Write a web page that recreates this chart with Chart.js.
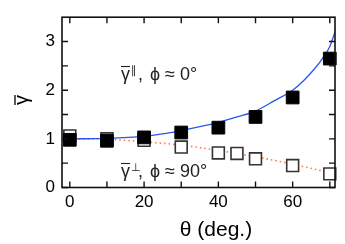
<!DOCTYPE html>
<html>
<head>
<meta charset="utf-8">
<script src="https://cdn.jsdelivr.net/npm/chart.js@4/dist/chart.umd.min.js"></script>
<style>
  body { margin: 0; background: #fff; }
  canvas { display: block; }
</style>
</head>
<body>
<canvas id="chart" width="345" height="244"></canvas>
<script>
// measured points
const thetaPar = [0, 10, 20, 30, 40, 50, 60, 70];
const gammaPar = [0.98, 0.96, 1.03, 1.13, 1.23, 1.45, 1.85, 2.65];
const thetaPerp = [0, 10, 20, 30, 40, 45, 50, 60, 70];
const gammaPerp = [1.06, 1.0, 0.97, 0.83, 0.71, 0.70, 0.59, 0.45, 0.28];

// fit curves
const thetaFitPar = [0, 10, 20, 25, 30, 35, 40, 45, 50, 55, 60, 63, 66, 68, 70, 71.5];
const gammaFitPar = [1.0, 1.01, 1.05, 1.1, 1.17, 1.25, 1.34, 1.45, 1.57, 1.78, 2.0, 2.2, 2.45, 2.65, 2.9, 3.22];
const thetaFitPerp = [0, 10, 20, 30, 40, 50, 60, 70, 71.5];
const gammaFitPerp = [1.0, 0.99, 0.94, 0.87, 0.76, 0.63, 0.48, 0.3, 0.27];

// axes
const xTicks = [0, 10, 20, 30, 40, 50, 60, 70];
const yTicks = [0, 0.5, 1, 1.5, 2, 2.5, 3];

const toXY = (xs, ys) => xs.map((x, i) => ({ x: x, y: ys[i] }));

Chart.defaults.font.family = '"Liberation Sans", Arial, sans-serif';
Chart.defaults.color = "#000";

const framePlugin = {
  id: "frame",
  afterDraw(chart) {
    const ctx = chart.ctx;
    const a = chart.chartArea;
    const xs = chart.scales.x, ys = chart.scales.y;
    ctx.save();
    ctx.strokeStyle = "#111";
    ctx.lineWidth = 1.6;
    ctx.strokeRect(a.left, a.top, a.right - a.left, a.bottom - a.top);
    ctx.lineWidth = 1.4;
    ctx.beginPath();
    xTicks.forEach(v => {
      const px = xs.getPixelForValue(v);
      ctx.moveTo(px, a.bottom); ctx.lineTo(px, a.bottom - 6);
      ctx.moveTo(px, a.top); ctx.lineTo(px, a.top + 6);
    });
    yTicks.forEach(v => {
      const py = ys.getPixelForValue(v);
      ctx.moveTo(a.left, py); ctx.lineTo(a.left + 6, py);
      ctx.moveTo(a.right, py); ctx.lineTo(a.right - 6, py);
    });
    ctx.stroke();

    // axis titles
    ctx.fillStyle = "#000";
    ctx.font = '21px "Liberation Sans", Arial, sans-serif';
    ctx.textAlign = "center";
    ctx.textBaseline = "alphabetic";
    ctx.fillText("θ (deg.)", 216, 236);

    ctx.save();
    ctx.translate(25, 100);
    ctx.rotate(-Math.PI / 2);
    ctx.font = '20px "Liberation Sans", Arial, sans-serif';
    ctx.fillText("γ", 0, 3);
    ctx.lineWidth = 1.3;
    ctx.strokeStyle = "#000";
    ctx.beginPath();
    ctx.moveTo(-5, -10); ctx.lineTo(5, -10);
    ctx.stroke();
    ctx.restore();

    // annotations
    const label = (x, base, sup, rest) => {
      ctx.fillStyle = "#222";
      ctx.strokeStyle = "#222";
      ctx.textAlign = "left";
      ctx.font = '18px "Liberation Sans", Arial, sans-serif';
      ctx.fillText("γ", x, base);
      const w = ctx.measureText("γ").width;
      ctx.lineWidth = 1.1;
      ctx.beginPath();
      ctx.moveTo(x, base - 13.5); ctx.lineTo(x + w, base - 13.5);
      ctx.stroke();
      ctx.font = '11px "DejaVu Sans", sans-serif';
      ctx.fillText(sup, x + w + 1, base - 6);
      ctx.font = '18px "Liberation Sans", Arial, sans-serif';
      ctx.fillText(",", x + w + 8, base);
      ctx.fillText(rest, x + w + 20, base);
    };
    label(121, 80, "∥", "ϕ ≈ 0°");
    label(121, 177, "⊥", "ϕ ≈ 90°");
    ctx.restore();
  }
};

new Chart(document.getElementById("chart"), {
  type: "scatter",
  data: {
    datasets: [
      {
        label: "par",
        data: toXY(thetaPar, gammaPar),
        pointStyle: "rect",
        pointRadius: 9,
        backgroundColor: "#000",
        borderColor: "#000",
        borderWidth: 1,
        clip: false
      },
      {
        label: "perp",
        data: toXY(thetaPerp, gammaPerp),
        pointStyle: "rect",
        pointRadius: 8.4,
        backgroundColor: "#fff",
        borderColor: "#333",
        borderWidth: 1.6,
        clip: false
      },
      {
        label: "fit par",
        type: "line",
        data: toXY(thetaFitPar, gammaFitPar),
        borderColor: "#2a55f0",
        borderWidth: 1.3,
        pointRadius: 0,
        tension: 0.4,
        cubicInterpolationMode: "monotone"
      },
      {
        label: "fit perp",
        type: "line",
        data: toXY(thetaFitPerp, gammaFitPerp),
        borderColor: "#ff7a45",
        borderWidth: 1.6,
        borderDash: [1.5, 3],
        pointRadius: 0,
        cubicInterpolationMode: "monotone"
      }
    ]
  },
  options: {
    responsive: false,
    animation: false,
    devicePixelRatio: 1,
    layout: { padding: { top: 1, right: 1, left: 0, bottom: 0 } },
    plugins: { legend: { display: false }, tooltip: { enabled: false } },
    scales: {
      x: {
        type: "linear",
        min: -2.1,
        max: 71.4,
        grid: { display: false, drawTicks: false },
        border: { display: false },
        afterBuildTicks: s => { s.ticks = xTicks.map(v => ({ value: v })); },
        afterFit: s => { s.height = 56.5; },
        ticks: {
          font: { size: 17 },
          padding: 5,
          maxRotation: 0,
          callback: v => (v % 20 === 0 ? String(v) : "")
        }
      },
      y: {
        type: "linear",
        min: 0,
        max: 3.5,
        grid: { display: false, drawTicks: false },
        border: { display: false },
        afterBuildTicks: s => { s.ticks = yTicks.map(v => ({ value: v })); },
        afterFit: s => { s.width = 62; },
        ticks: {
          font: { size: 17 },
          padding: 7,
          callback: v => (Number.isInteger(v) ? String(v) : "")
        }
      }
    }
  },
  plugins: [framePlugin]
});
</script>
</body>
</html>
